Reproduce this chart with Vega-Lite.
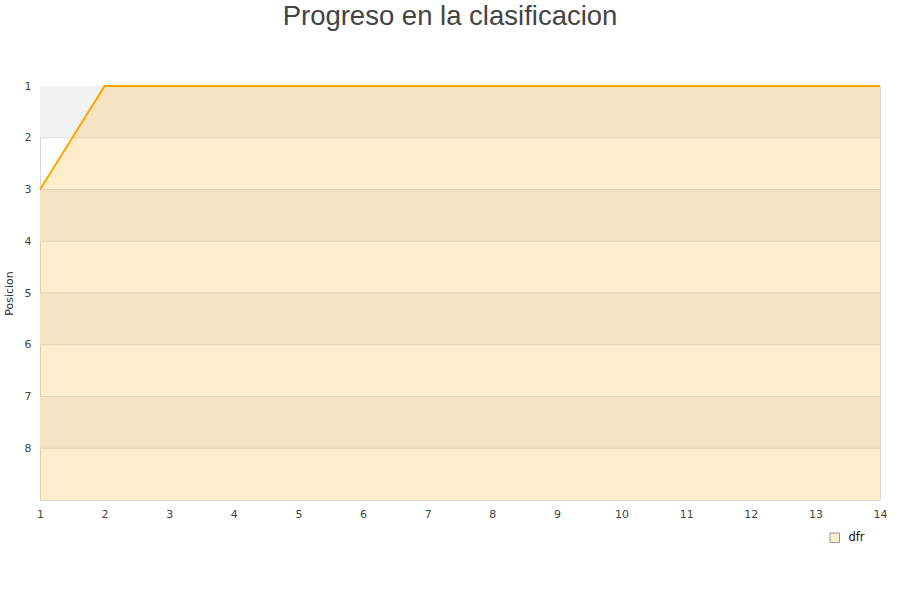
{
  "$schema": "https://vega.github.io/schema/vega-lite/v6.json",
  "width": 840,
  "height": 414,
  "autosize": "none",
  "padding": {"left": 40, "top": 86, "right": 20, "bottom": 100},
  "background": "white",
  "title": {
    "text": "Progreso en la clasificacion",
    "anchor": "middle",
    "frame": "group",
    "dx": -10,
    "offset": 50,
    "font": "Liberation Sans",
    "fontSize": 27.5,
    "fontWeight": "normal",
    "color": "#444444"
  },
  "config": {
    "view": {"stroke": "#d9d9d9", "strokeWidth": 1},
    "area": {"fillOpacity": 0.2},
    "axis": {
      "labelFont": "DejaVu Sans",
      "titleFont": "DejaVu Sans",
      "labelColor": "#444444",
      "titleColor": "#333333",
      "labelFontSize": 11,
      "titleFontSize": 11,
      "titleFontWeight": "normal",
      "ticks": false,
      "domain": false,
      "grid": false
    },
    "legend": {
      "labelFont": "DejaVu Sans",
      "labelFontSize": 11.5,
      "labelColor": "#111111"
    }
  },
  "datasets": {
    "progreso": [
      {"jornada": 1, "posicion": 3, "serie": "dfr"},
      {"jornada": 2, "posicion": 1, "serie": "dfr"},
      {"jornada": 3, "posicion": 1, "serie": "dfr"},
      {"jornada": 4, "posicion": 1, "serie": "dfr"},
      {"jornada": 5, "posicion": 1, "serie": "dfr"},
      {"jornada": 6, "posicion": 1, "serie": "dfr"},
      {"jornada": 7, "posicion": 1, "serie": "dfr"},
      {"jornada": 8, "posicion": 1, "serie": "dfr"},
      {"jornada": 9, "posicion": 1, "serie": "dfr"},
      {"jornada": 10, "posicion": 1, "serie": "dfr"},
      {"jornada": 11, "posicion": 1, "serie": "dfr"},
      {"jornada": 12, "posicion": 1, "serie": "dfr"},
      {"jornada": 13, "posicion": 1, "serie": "dfr"},
      {"jornada": 14, "posicion": 1, "serie": "dfr"}
    ],
    "bandas": [
      {"desde": 1, "hasta": 2},
      {"desde": 3, "hasta": 4},
      {"desde": 5, "hasta": 6},
      {"desde": 7, "hasta": 8}
    ],
    "lineas": [
      {"pos": 2}, {"pos": 3}, {"pos": 4}, {"pos": 5}, {"pos": 6}, {"pos": 7}, {"pos": 8}
    ]
  },
  "layer": [
    {
      "data": {"name": "bandas"},
      "mark": {"type": "rect", "color": "#f2f2f2"},
      "encoding": {
        "y": {
          "field": "desde",
          "type": "quantitative",
          "scale": {"domain": [1, 9], "reverse": true, "nice": false, "zero": false},
          "axis": {"values": [1, 2, 3, 4, 5, 6, 7, 8], "format": "d", "title": "Posicion", "labelPadding": 9, "titlePadding": 10}
        },
        "y2": {"field": "hasta"}
      }
    },
    {
      "data": {"name": "lineas"},
      "mark": {"type": "rule", "color": "#dddddd", "strokeWidth": 1},
      "encoding": {
        "y": {"field": "pos", "type": "quantitative"}
      }
    },
    {
      "data": {"name": "progreso"},
      "mark": {"type": "area", "interpolate": "linear"},
      "encoding": {
        "x": {
          "field": "jornada",
          "type": "quantitative",
          "scale": {"domain": [1, 14], "nice": false, "zero": false},
          "axis": {"values": [1, 2, 3, 4, 5, 6, 7, 8, 9, 10, 11, 12, 13, 14], "format": "d", "labelFlush": false, "title": null, "labelPadding": 8}
        },
        "y": {"field": "posicion", "type": "quantitative"},
        "y2": {"datum": 9},
        "fill": {
          "field": "serie",
          "type": "nominal",
          "scale": {"range": ["#FFA500"]},
          "legend": {
            "title": null,
            "orient": "none",
            "legendX": 789,
            "legendY": 446,
            "padding": 0,
            "symbolType": "square",
            "symbolSize": 90,
            "symbolStrokeColor": "#999999",
            "symbolStrokeWidth": 1,
            "labelOffset": 8
          }
        }
      }
    },
    {
      "data": {"name": "progreso"},
      "mark": {"type": "line", "color": "#FFA500", "strokeWidth": 2},
      "encoding": {
        "x": {"field": "jornada", "type": "quantitative"},
        "y": {"field": "posicion", "type": "quantitative"}
      }
    }
  ]
}
